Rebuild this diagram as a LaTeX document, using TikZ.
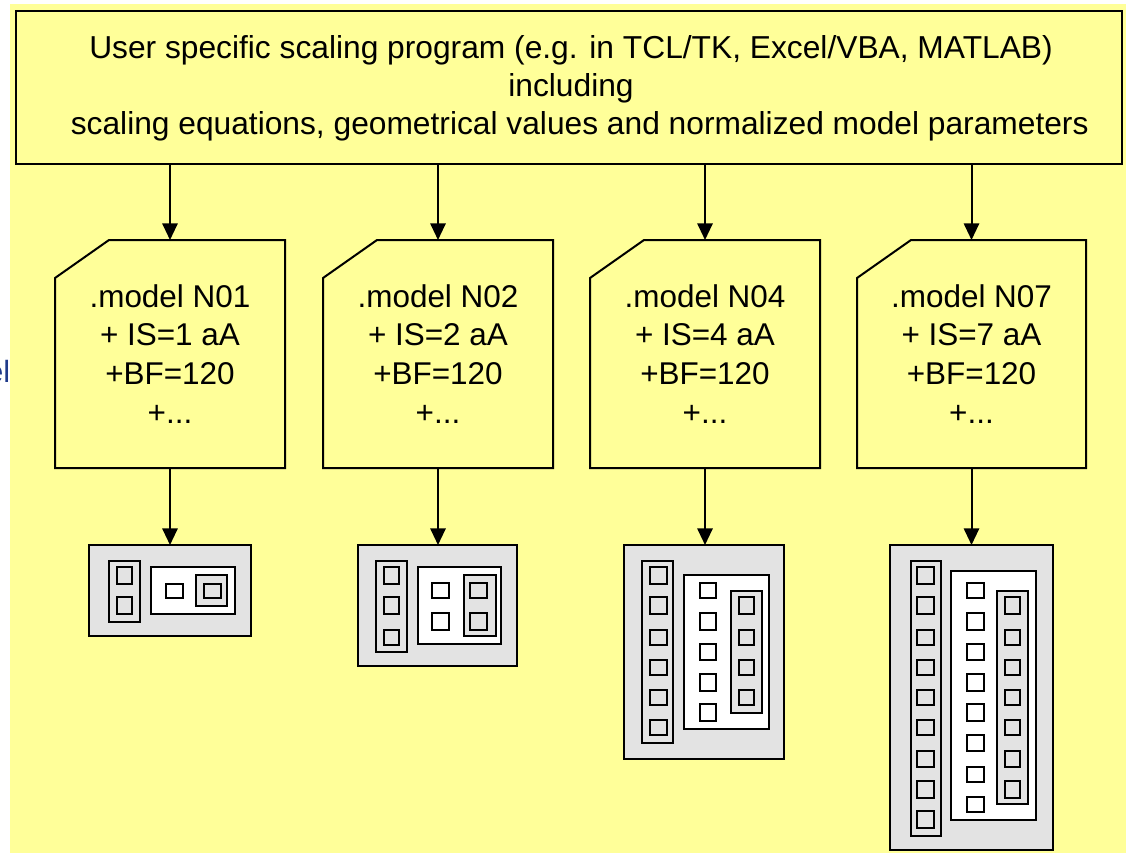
\documentclass[tikz,border=0pt]{standalone}
\usepackage{fontspec}
\setmainfont{Liberation Sans}
\usetikzlibrary{arrows.meta,calc}
\definecolor{bgyellow}{HTML}{FFFF99}
\definecolor{chipgray}{HTML}{E3E3E3}
\definecolor{cutblue}{HTML}{1F3A8A}
\tikzset{
  outl/.style={draw=black,line width=1.5pt,line join=miter},
  arr/.style={draw=black,line width=1.5pt,-{Triangle[width=11.5pt,length=12.5pt]},shorten >=0pt},
  txt/.style={font=\fontsize{23.8pt}{28.5pt}\selectfont,align=center,inner sep=0pt,outer sep=0pt},
  doctxt/.style={font=\fontsize{23.6pt}{29.2pt}\selectfont,align=center,inner sep=0pt,outer sep=0pt},
  part/.style={draw=black,line width=1.4pt,fill=none},
  hole/.style={draw=black,line width=1.4pt,fill=white},
  chipbox/.style={draw=black,line width=1.4pt,fill=chipgray,inner sep=0pt,outer sep=0pt}
}
% rectangle given in pixel coordinates
\newcommand{\rc}[5]{\draw[#1] (#2,#3) rectangle (#4,#5);}
% square rows: style, x1, x2, list of y1/y2 in 3x zoom units relative to 530
\newcommand{\rows}[4]{\foreach \ya/\yb in {#4}{\draw[#1] (#2,{530+\ya/3}) rectangle (#3,{530+\yb/3});}}
\newcommand{\mk}[4]{\node[chipbox,minimum width=#3*0.75pt,minimum height=#4*0.75pt,anchor=north west] (#1) at (#2) {};}
\newcommand{\docshape}[1]{\draw[outl] (#1.south west) -- ([yshift=-38*0.75pt]#1.north west) -- ([xshift=54*0.75pt]#1.north west) -- (#1.north east) -- (#1.south east) -- cycle;}
\begin{document}
\begin{tikzpicture}[x=0.75pt,y=-0.75pt]
\useasboundingbox (0,0) rectangle (1126,853);
\fill[white] (0,0) rectangle (1126,853);
% text cut off by the yellow panel
\node[anchor=east,inner sep=0pt,text=cutblue,font=\fontsize{23pt}{27pt}\selectfont] (cutA) at (10.5,372) {el};
\node[anchor=east,inner sep=0pt,text=cutblue,font=\fontsize{32pt}{36pt}\selectfont] (cutB) at (2,818) {l};
\fill[bgyellow] (10,4) rectangle (1126,853);
% top box
\node[outl,fill=bgyellow,minimum width=1106*0.75pt,minimum height=153*0.75pt,inner sep=0pt,outer sep=0pt,anchor=north west] (top) at (16,10.5) {};
\node[txt] (toptext) at (571,88) {User specific scaling program (e.g. in TCL/TK, Excel/VBA, MATLAB)\\including\\\hspace*{0.55em}scaling equations, geometrical values and normalized model parameters};
% documents
\foreach \n/\xa/\w/\lab/\val in {doc1/55/230/N01/1,doc2/323/230/N02/2,doc3/590/230/N04/4,doc4/857/229/N07/7}{
  \node[minimum width=\w*0.75pt,minimum height=228*0.75pt,inner sep=0pt,outer sep=0pt,anchor=north west,doctxt] (\n) at (\xa,240) {};
  \docshape{\n}
  \node[doctxt,anchor=center] (\n t) at ($(\n.center)+(0,0)$) {.model \lab\\+ IS=\val\ aA\\+BF=120\\+...};
}
% chips
\mk{chip1}{89,545}{161.7}{91}
\mk{chip2}{357.7,545}{159.6}{121}
\mk{chip3}{623.7,545}{160.3}{214.3}
\mk{chip4}{890.3,545}{162.4}{305}
% connectors
\draw[arr] (top.south -| doc1.north) -- (doc1.north);
\draw[arr] (top.south -| doc2.north) -- (doc2.north);
\draw[arr] (top.south -| doc3.north) -- (doc3.north);
\draw[arr] (top.south -| doc4.north) -- (doc4.north);
\draw[arr] (doc1.south) -- (doc1.south |- chip1.north);
\draw[arr] (doc2.south) -- (doc2.south |- chip2.north);
\draw[arr] (doc3.south) -- (doc3.south |- chip3.north);
\draw[arr] (doc4.south) -- (doc4.south |- chip4.north);
% chip 1
\rc{part}{109}{561}{140}{622.3}
\rc{part}{117}{567}{132}{583.7}
\rc{part}{117}{597.3}{132}{614}
\rc{hole}{151.3}{567}{234.7}{614}
\rc{part,fill=white}{165.7}{583.7}{182.7}{597.7}
\rc{part,fill=chipgray}{196}{575.3}{227}{606}
\rc{part}{203.7}{583.7}{221}{597.7}
% chip 2
\rc{part}{375.7}{561.3}{406.7}{652.3}
\rows{part}{383.7}{398.7}{111/161,202/252,299/344}
\rc{hole}{418}{567}{501}{644.3}
\rows{part}{432}{449}{159/204,250/301}
\rc{part,fill=chipgray}{464.3}{575}{495.7}{636.3}
\rows{part}{470.3}{487.3}{159/204,250/301}
% chip 3
\rc{part}{642.3}{561.3}{672.7}{743}
\rows{part}{650}{667}{111/161,202/252,299/344,390/434,481/525,571/616}
\rc{hole}{684.3}{575.3}{769.3}{729}
\rows{part}{700.3}{715.7}{159/204,250/301,341/391,432/482,523/573}
\rc{part,fill=chipgray}{730.7}{591}{761.7}{712.7}
\rows{part}{739}{754}{202/252,299/344,390/434,481/525}
% chip 4
\rc{part}{910.7}{561.3}{941.3}{835.7}
\rows{part}{916.7}{933.7}{111/161,202/252,299/344,390/434,481/525,571/616,662/712,753/803,844/894}
\rc{hole}{951}{571.3}{1036.3}{819.7}
\rows{part}{967}{984}{159/204,250/301,341/391,432/482,523/573,614/664,710/755,800/846}
\rc{part,fill=chipgray}{997.3}{591}{1028}{803.7}
\rows{part}{1005.3}{1020.3}{202/252,299/344,390/434,481/525,571/616,662/712,753/803}
\end{tikzpicture}
\end{document}
